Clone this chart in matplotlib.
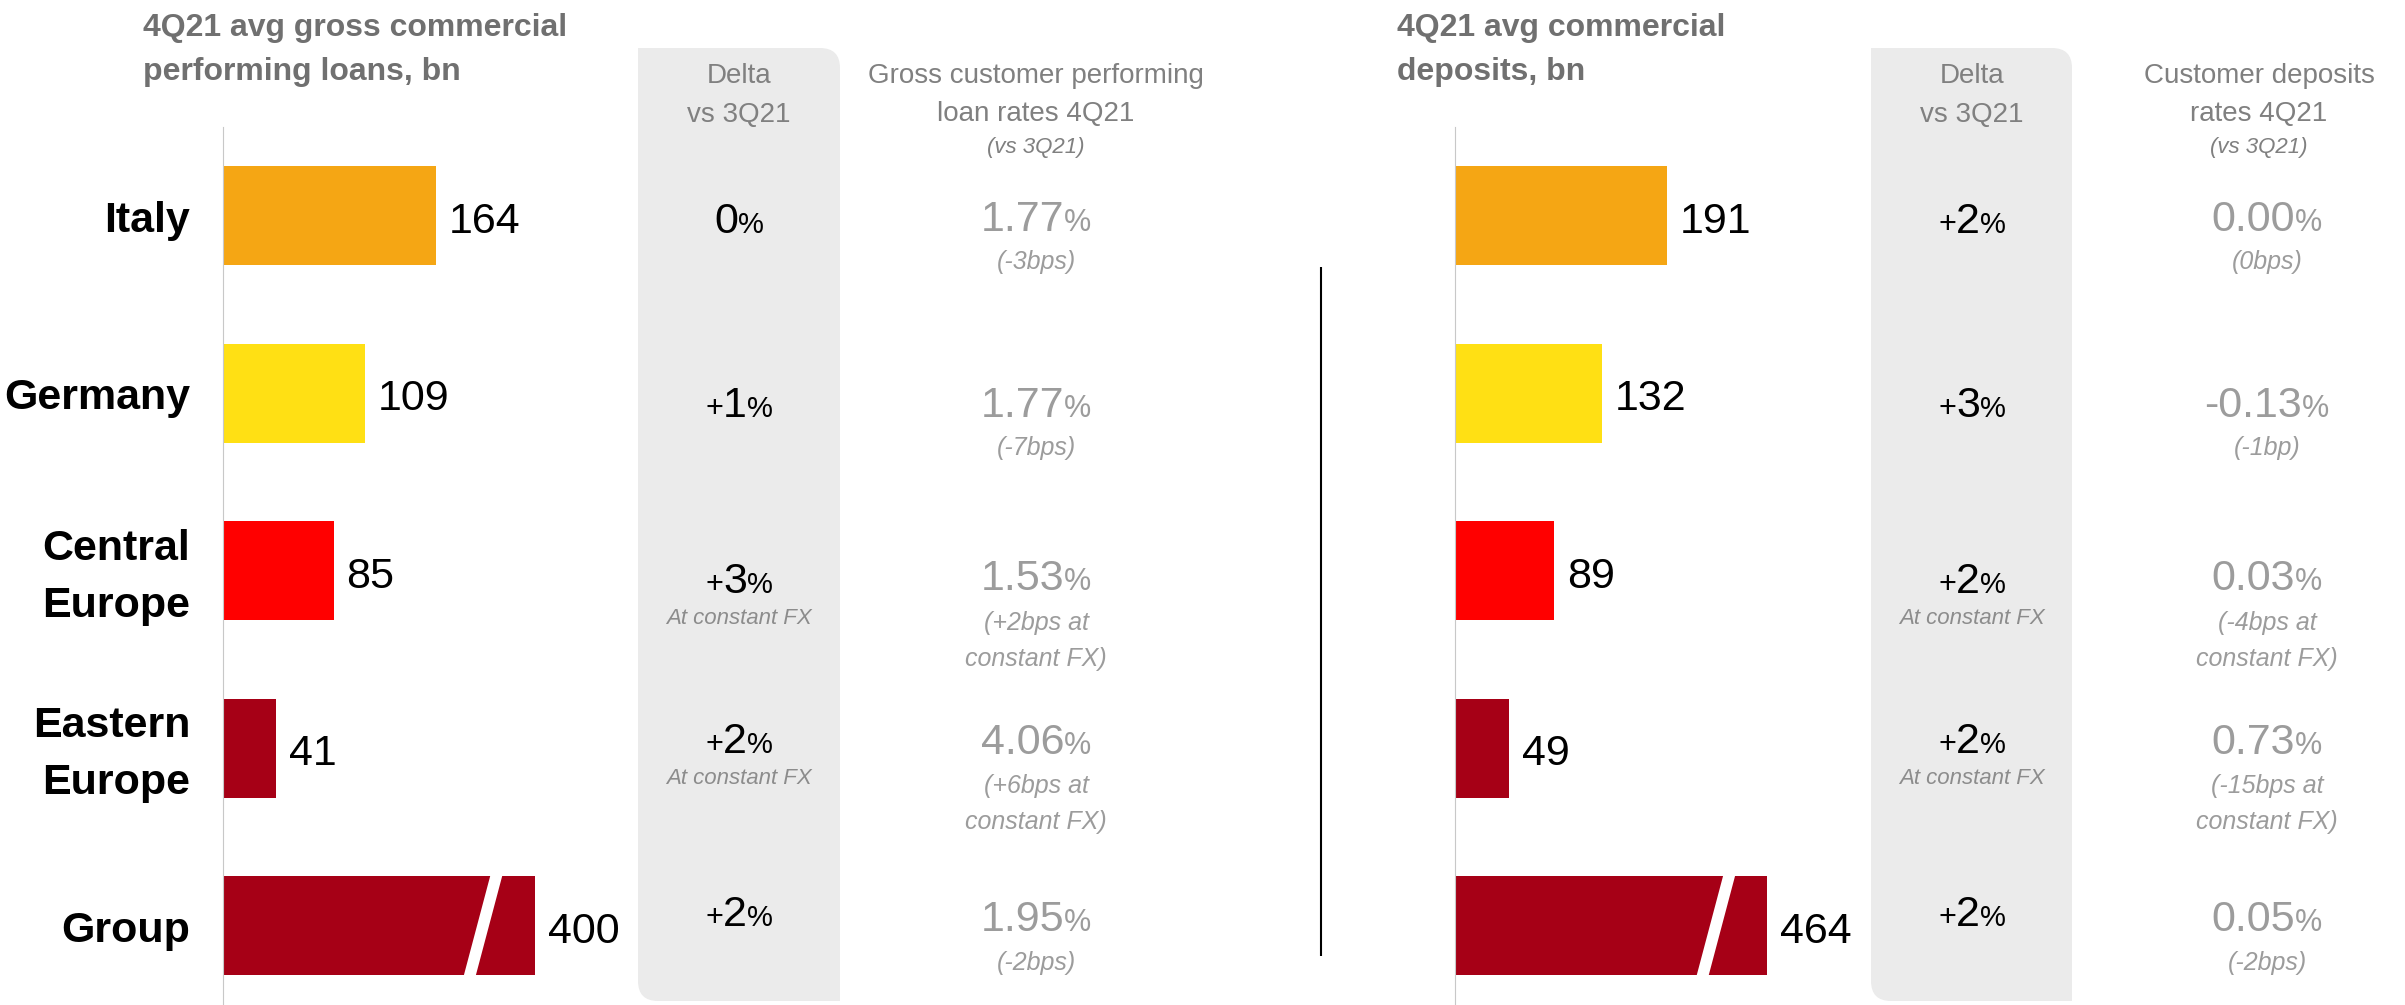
import matplotlib
matplotlib.use("Agg")
import matplotlib.pyplot as plt
import matplotlib.transforms as mtransforms
import numpy as np
from matplotlib.path import Path
from matplotlib.patches import PathPatch, Polygon

plt.rcParams['font.family'] = ['Liberation Sans', 'DejaVu Sans']

# ---- data -------------------------------------------------------------
regions = ['Italy', 'Germany', 'Central\nEurope', 'Eastern\nEurope', 'Group']
bar_colors = ['#F5A614', '#FFE014', '#FF0000', '#A60016', '#A60016']

loans_bn = [164, 109, 85, 41, 400]
loans_delta = ['0', '+1', '+3', '+2', '+2']
loans_delta_note = ['', '', 'At constant FX', 'At constant FX', '']
loan_rates = ['1.77', '1.77', '1.53', '4.06', '1.95']
loan_rates_chg = ['(-3bps)', '(-7bps)', '(+2bps at\nconstant FX)',
                  '(+6bps at\nconstant FX)', '(-2bps)']

deposits_bn = [191, 132, 89, 49, 464]
deposits_delta = ['+2', '+3', '+2', '+2', '+2']
deposits_delta_note = ['', '', 'At constant FX', 'At constant FX', '']
deposit_rates = ['0.00', '-0.13', '0.03', '0.73', '0.05']
deposit_rates_chg = ['(0bps)', '(-1bp)', '(-4bps at\nconstant FX)',
                     '(-15bps at\nconstant FX)', '(-2bps)']

# ---- layout (pixels, measured from the top-left corner) ---------------
W, H = 2405, 1005
AX_TOP = 127
ROW_STEP = 177.5
delta_main_y = [233, 417, 593, 753, 926]
rate_main_y = [231, 417, 590, 754, 931]
rate_sub_y = [269, 455, 630, 793, 970]
SUB_GAP = 36

GREY_HEAD = '#808080'
GREY_RATE = '#9c9c9c'
GREY_NOTE = '#8c8c8c'
GREY_TITLE = '#707070'
BOX = '#ebebeb'

fig = plt.figure(figsize=(W / 100, H / 100), dpi=100)
bg = fig.add_axes([0, 0, 1, 1])
bg.set_xlim(0, W)
bg.set_ylim(H, 0)
bg.axis('off')
renderer = fig.canvas.get_renderer()


def rich(xc, yb, pieces):
    """Centre a run of differently styled pieces on xc, sharing baseline yb."""
    objs = [bg.text(0, yb, s, fontsize=fs, color=c, fontstyle=st,
                    ha='left', va='baseline') for s, fs, c, st in pieces]
    widths = [o.get_window_extent(renderer=renderer).width for o in objs]
    x = xc - sum(widths) / 2
    for o, w in zip(objs, widths):
        o.set_x(x)
        x += w


def delta_box(x0, x1, top=48, bottom=1001, r=20):
    verts = [(x0, top), (x1 - r, top), (x1, top), (x1, top + r),
             (x1, bottom), (x0 + r, bottom), (x0, bottom), (x0, bottom - r),
             (x0, top)]
    codes = [Path.MOVETO, Path.LINETO, Path.CURVE3, Path.CURVE3,
             Path.LINETO, Path.LINETO, Path.CURVE3, Path.CURVE3,
             Path.CLOSEPOLY]
    bg.add_patch(PathPatch(Path(verts, codes), facecolor=BOX,
                           edgecolor='none', zorder=0))


def break_scale(b, k):
    def fwd(x):
        x = np.asarray(x, dtype=float)
        return np.where(x <= b, x, b + (x - b) * k)

    def inv(y):
        y = np.asarray(y, dtype=float)
        return np.where(y <= b, y, b + (y - b) / k)
    return fwd, inv


def bar_panel(x0, width_px, ppu, b, k, values, with_labels):
    ax = fig.add_axes([x0 / W, 0, width_px / W, (H - AX_TOP) / H])
    ax.patch.set_alpha(0)
    fwd, inv = break_scale(b, k)
    ax.set_xscale('function', functions=(fwd, inv))
    ax.set_xlim(0, float(inv(width_px / ppu)))
    n = len(values)
    ax.set_ylim((H - AX_TOP) / ROW_STEP - 0.5, -0.5)
    ax.barh(np.arange(n), values, height=0.558, color=bar_colors, zorder=2)
    for s in ('top', 'right', 'bottom'):
        ax.spines[s].set_visible(False)
    ax.spines['left'].set_color('#c8c8c8')
    ax.spines['left'].set_linewidth(0.8)
    ax.set_xticks([])
    ax.set_yticks([])
    ax.xaxis.set_minor_locator(matplotlib.ticker.NullLocator())

    for i, v in enumerate(values):
        ax.annotate(f'{v}', xy=(v, i), xytext=(13, -17),
                    textcoords='offset pixels', ha='left', va='baseline',
                    fontsize=31, color='black', annotation_clip=False)

    if with_labels:
        for i, lab in enumerate(regions):
            lines = lab.split('\n')
            offs = [16] if len(lines) == 1 else [-11, 46]
            for line, off in zip(lines, offs):
                ax.annotate(line, xy=(0, i), xycoords=('axes fraction', 'data'),
                            xytext=(-33, -off), textcoords='offset pixels',
                            ha='right', va='baseline', fontsize=31,
                            fontweight='bold', color='black',
                            annotation_clip=False)

    # slanted gap marking the broken scale on the Group bar
    gap = np.array([(-19.8, -52), (-7.8, -52), (19.8, 52), (7.8, 52)]) / 100
    tr = fig.dpi_scale_trans + mtransforms.ScaledTranslation(b, n - 1, ax.transData)
    ax.add_patch(Polygon(gap, closed=True, facecolor='white', edgecolor='none',
                         transform=tr, zorder=3, clip_on=False))
    return ax


def table_columns(delta_x, rate_x, rate_head_x, deltas, notes, rates, chgs,
                  rate_header):
    # column headers
    bg.text(delta_x, 83, 'Delta', fontsize=20, color=GREY_HEAD,
            ha='center', va='baseline')
    bg.text(delta_x, 122, 'vs 3Q21', fontsize=20, color=GREY_HEAD,
            ha='center', va='baseline')
    bg.text(rate_head_x, 83, rate_header[0], fontsize=20, color=GREY_HEAD,
            ha='center', va='baseline')
    bg.text(rate_head_x, 121, rate_header[1], fontsize=20, color=GREY_HEAD,
            ha='center', va='baseline')
    bg.text(rate_head_x, 153, '(vs 3Q21)', fontsize=16, color=GREY_HEAD,
            fontstyle='italic', ha='center', va='baseline')

    for i in range(len(deltas)):
        d = deltas[i]
        pieces = []
        if d[0] in '+-':
            pieces.append((d[0], 22, 'black', 'normal'))
            d = d[1:]
        pieces += [(d, 31, 'black', 'normal'), ('%', 21, 'black', 'normal')]
        rich(delta_x, delta_main_y[i], pieces)
        if notes[i]:
            bg.text(delta_x, delta_main_y[i] + 31, notes[i], fontsize=16,
                    color=GREY_NOTE, fontstyle='italic', ha='center',
                    va='baseline')

        rich(rate_x, rate_main_y[i], [(rates[i], 31, GREY_RATE, 'normal'),
                                      ('%', 22, GREY_RATE, 'normal')])
        for j, line in enumerate(chgs[i].split('\n')):
            bg.text(rate_x, rate_sub_y[i] + j * SUB_GAP, line, fontsize=18,
                    color=GREY_RATE, fontstyle='italic', ha='center',
                    va='baseline')


# ---- background elements ---------------------------------------------
delta_box(638, 840)
delta_box(1871, 2072)
bg.plot([1321, 1321], [267, 956], color='black', lw=1.5, solid_capstyle='butt')

# panel titles
for x, lines in ((143, ['4Q21 avg gross commercial', 'performing loans, bn']),
                 (1397, ['4Q21 avg commercial', 'deposits, bn'])):
    for y, line in zip((36, 80), lines):
        bg.text(x, y, line, fontsize=23, fontweight='bold', color=GREY_TITLE,
                ha='left', va='baseline')

# ---- bars ------------------------------------------------------------
bar_panel(223, 380, 1.30, 200, 0.2, loans_bn, True)
bar_panel(1455, 380, 1.11, 235, 0.2, deposits_bn, False)

# ---- table columns ---------------------------------------------------
table_columns(739, 1036, 1036, loans_delta, loans_delta_note, loan_rates,
              loan_rates_chg, ['Gross customer performing', 'loan rates 4Q21'])
table_columns(1972, 2267, 2259, deposits_delta, deposits_delta_note,
              deposit_rates, deposit_rates_chg,
              ['Customer deposits', 'rates 4Q21'])

fig.savefig('out.png', dpi=100)
